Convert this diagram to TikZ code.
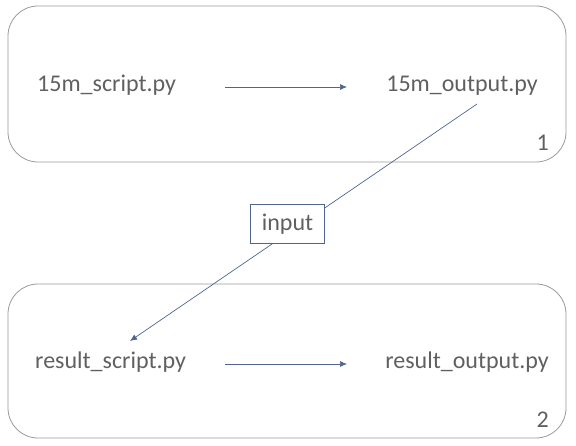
\documentclass[tikz,border=0pt]{standalone}
\usepackage{fontspec}
\setmainfont{Carlito}
\usetikzlibrary{arrows.meta}
\definecolor{txt}{HTML}{606060}
\definecolor{frame}{HTML}{9A9A9A}
\definecolor{link}{HTML}{4F6590}
\begin{document}
\begin{tikzpicture}[x=1pt,y=-1pt,
  lbl/.style={text=txt,font=\fontsize{24}{28}\selectfont,inner sep=0pt,anchor=base},
  stage/.style={draw=frame,line width=0.8pt,rounded corners=30pt},
  flow/.style={draw=link,line width=0.7pt,-{Latex[length=7pt,width=6pt]}}]
\useasboundingbox (0,0) rectangle (576,446);
\node[stage,minimum width=558pt,minimum height=156pt,inner sep=0pt] (b1) at (287,84) {};
\node[stage,minimum width=558pt,minimum height=154pt,inner sep=0pt] (b2) at (287,361) {};
\node[lbl,anchor=base west] (s1) at (37,92) {15m\_script.py};
\node[lbl,anchor=base east] (o1) at (538,92) {15m\_output.py};
\node[lbl,anchor=base west] (s2) at (35,369) {result\_script.py};
\node[lbl,anchor=base east] (o2) at (549,369) {result\_output.py};
\node[lbl,anchor=base east] (n1) at (549,151) {1};
\node[lbl,anchor=base east] (n2) at (549,428) {2};
\coordinate (a1) at (225,87);
\coordinate (a1e) at (347,87);
\coordinate (a2) at (225,364);
\coordinate (a2e) at (347,364);
\coordinate (c1) at (477,104);
\coordinate (c2) at (130,341);
\draw[flow] (a1) -- (a1e);
\draw[flow] (a2) -- (a2e);
\draw[flow] (c1) -- (c2);
\node[lbl,anchor=center,draw=link,line width=0.8pt,fill=white,minimum width=74pt,minimum height=39pt] (in) at (287.5,223.8) {input};
\end{tikzpicture}
\end{document}
